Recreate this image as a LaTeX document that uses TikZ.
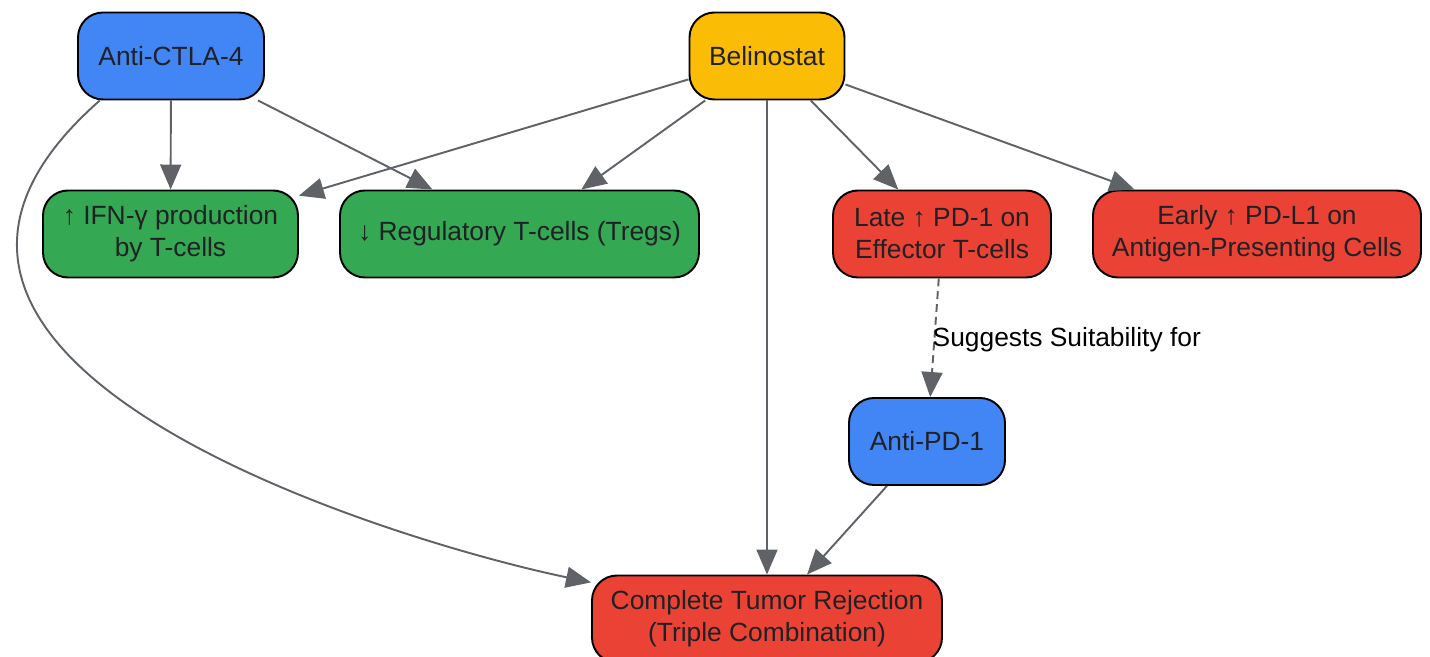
\documentclass[tikz,border=0pt]{standalone}
\usepackage{fontspec}
\setmainfont{Liberation Sans}
\usetikzlibrary{arrows.meta}

\definecolor{drugblue}{HTML}{4285F4}
\definecolor{druggold}{HTML}{FBBC05}
\definecolor{effgreen}{HTML}{34A853}
\definecolor{effred}{HTML}{EA4335}
\definecolor{inkdark}{HTML}{202124}
\definecolor{linkgray}{HTML}{5F6368}

\tikzset{
    box/.style={draw=black, line width=1.1pt, rounded corners=0.5cm,
        minimum height=1.74cm, align=center, text=inkdark,
        font=\fontsize{15}{18.2}\selectfont},
    link/.style={draw=linkgray, line width=1.1pt,
        -{Triangle[length=0.5cm,width=0.42cm]}},
}

\begin{document}
\begin{tikzpicture}
    \useasboundingbox (0,0) rectangle (28.6,13.14);

    % drugs
    \node[box, fill=drugblue, minimum width=3.72cm] (ctla) at (3.42, 12.02) {Anti-CTLA-4};
    \node[box, fill=druggold, minimum width=3.1cm] (beli) at (15.34, 12.02) {Belinostat};

    % effects
    \node[box, fill=effgreen, minimum width=5.1cm] (ifng) at (3.41, 8.46) {↑ IFN-γ production\\by T-cells};
    \node[box, fill=effgreen, minimum width=7.18cm] (tregs) at (10.39, 8.46) {↓ Regulatory T-cells (Tregs)};
    \node[box, fill=effred, minimum width=4.36cm] (pdone) at (18.84, 8.46) {Late ↑ PD-1 on\\Effector T-cells};
    \node[box, fill=effred, minimum width=6.56cm] (pdlone) at (25.14, 8.46) {Early ↑ PD-L1 on\\Antigen-Presenting Cells};

    \node[box, fill=drugblue, minimum width=3.12cm] (antipd) at (18.54, 4.31) {Anti-PD-1};
    \node[box, fill=effred, minimum width=7.0cm] (reject) at (15.34, 0.76) {Complete Tumor Rejection\\(Triple Combination)};

    \draw[link] (ctla) -- (ifng);
    \draw[link] (ctla) -- (tregs);
    \draw[link] (ctla.-148) .. controls (-4.0, 5.86) and (7.94, 2.3) .. (reject);

    \draw[link] (beli) -- (ifng);
    \draw[link] (beli) -- (tregs);
    \draw[link] (beli) -- (reject);
    \draw[link] (beli) -- (pdone);
    \draw[link] (beli) -- (pdlone);

    \draw[link, dash pattern=on 4.5pt off 2.8pt] (pdone) -- (antipd);
    \node[anchor=west, font=\fontsize{15}{18.2}\selectfont] (suits) at (18.53, 6.34) {Suggests Suitability for};

    \draw[link] (antipd) -- (reject);
\end{tikzpicture}
\end{document}
